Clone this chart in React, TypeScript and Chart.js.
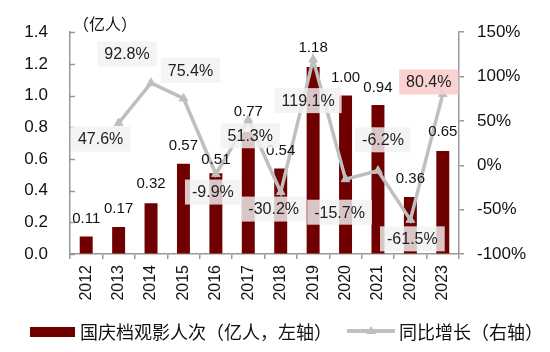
import React, { useEffect, useRef } from 'react';
import { Chart, registerables } from 'chart.js';

Chart.register(...registerables);

// ---------- data ----------
const years = ['2012', '2013', '2014', '2015', '2016', '2017', '2018', '2019', '2020', '2021', '2022', '2023'];
const audience = [0.11, 0.17, 0.32, 0.57, 0.51, 0.77, 0.54, 1.18, 1.0, 0.94, 0.36, 0.65];
const growth: (number | null)[] = [null, 47.6, 92.8, 75.4, -9.9, 51.3, -30.2, 119.1, -15.7, -6.2, -61.5, 80.4];
const leftAxisRange = [0, 1.4, 0.2];
const rightAxisRange = [-100, 150, 50];
const barSeriesName = '国庆档观影人次（亿人，左轴）';
const lineSeriesName = '同比增长（右轴）';
const leftAxisTitle = '（亿人）';
const highlightIndex = 11;

// ---------- label placement (layout only) ----------
const growthLabelOffset: [number, number][] = [
  [0, 0], [-18, 16], [-24, -29], [7, -28], [-3, 18], [2, 16],
  [-7, 17], [-5, 41], [-6, 33], [5, -31], [2, 19], [-14, -12],
];
const audienceLabelLift = [18, 18, 19, 18, 13, 20, 18, 19, 18, 17, 18, 19];

const BAR_COLOR = '#700000';
const LINE_COLOR = '#BFBFBF';
const AXIS_COLOR = '#999999';
const TEXT_COLOR = '#111111';
const FONT = "'Liberation Sans', 'Noto Sans CJK SC', Arial, sans-serif";
const CJK_FONT = "'Noto Sans CJK SC', 'Liberation Sans', sans-serif";

const overlayPlugin = {
  id: 'overlay',
  afterDatasetsDraw(chart: any) {
    const ctx = chart.ctx as CanvasRenderingContext2D;
    const area = chart.chartArea;
    ctx.save();

    // inner ticks for left axis
    const ys = chart.scales.y;
    ctx.strokeStyle = AXIS_COLOR;
    ctx.lineWidth = 1.5;
    ys.ticks.forEach((t: any) => {
      const py = Math.round(ys.getPixelForValue(t.value)) + 0.5;
      ctx.beginPath();
      ctx.moveTo(area.left, py);
      ctx.lineTo(area.left + 5, py);
      ctx.stroke();
    });

    // bar value labels
    const barMeta = chart.getDatasetMeta(0);
    ctx.fillStyle = TEXT_COLOR;
    ctx.font = `15px ${FONT}`;
    ctx.textAlign = 'center';
    ctx.textBaseline = 'middle';
    barMeta.data.forEach((el: any, i: number) => {
      ctx.fillText(audience[i].toFixed(2), el.x, el.y - audienceLabelLift[i]);
    });

    // growth labels with boxes
    const lineMeta = chart.getDatasetMeta(1);
    ctx.font = `16px ${FONT}`;
    lineMeta.data.forEach((pt: any, i: number) => {
      const v = growth[i];
      if (v === null || v === undefined) return;
      const txt = v.toFixed(1) + '%';
      const tw = ctx.measureText(txt).width;
      const w = tw + 14;
      const h = 25;
      const cx = pt.x + growthLabelOffset[i][0];
      const cy = pt.y + growthLabelOffset[i][1];
      ctx.fillStyle = i === highlightIndex ? 'rgba(250,205,205,0.9)' : 'rgba(242,242,242,0.82)';
      ctx.fillRect(cx - w / 2, cy - h / 2, w, h);
      ctx.fillStyle = '#222222';
      ctx.fillText(txt, cx, cy + 1);
    });

    // left axis title
    ctx.font = `16px ${CJK_FONT}`;
    ctx.textAlign = 'left';
    ctx.fillStyle = TEXT_COLOR;
    ctx.fillText(leftAxisTitle, 73, 24);

    // legend
    ctx.fillStyle = BAR_COLOR;
    ctx.fillRect(30, 327, 45, 10);
    ctx.fillStyle = TEXT_COLOR;
    ctx.font = `18px ${CJK_FONT}`;
    ctx.textBaseline = 'middle';
    ctx.fillText(barSeriesName, 80, 332);

    ctx.strokeStyle = LINE_COLOR;
    ctx.lineWidth = 4;
    ctx.beginPath();
    ctx.moveTo(347, 331);
    ctx.lineTo(395, 331);
    ctx.stroke();
    ctx.fillStyle = LINE_COLOR;
    ctx.beginPath();
    ctx.moveTo(371, 326);
    ctx.lineTo(376, 334);
    ctx.lineTo(366, 334);
    ctx.closePath();
    ctx.fill();
    ctx.fillStyle = TEXT_COLOR;
    ctx.fillText(lineSeriesName, 399, 332);

    ctx.restore();
  },
};

export default function App() {
  const ref = useRef<HTMLCanvasElement | null>(null);

  useEffect(() => {
    document.body.style.margin = '0';
    if (!ref.current) return;
    const chart = new Chart(ref.current, {
      type: 'bar',
      data: {
        labels: years,
        datasets: [
          {
            type: 'bar',
            label: barSeriesName,
            data: audience,
            backgroundColor: BAR_COLOR,
            barPercentage: 0.4,
            categoryPercentage: 1.0,
            yAxisID: 'y',
            order: 2,
          },
          {
            type: 'line',
            label: lineSeriesName,
            data: growth,
            borderColor: LINE_COLOR,
            backgroundColor: LINE_COLOR,
            borderWidth: 3.5,
            pointStyle: 'triangle',
            pointRadius: 5,
            pointBorderWidth: 1,
            yAxisID: 'y1',
            order: 1,
            spanGaps: false,
          } as any,
        ],
      },
      options: {
        responsive: false,
        animation: false,
        layout: { padding: { top: 25, bottom: 38, left: 0, right: 0 } },
        plugins: {
          legend: { display: false },
          tooltip: { enabled: false },
          title: { display: false },
        },
        scales: {
          x: {
            offset: true,
            grid: {
              offset: true,
              drawOnChartArea: false,
              drawTicks: true,
              tickLength: 5,
              color: AXIS_COLOR,
              lineWidth: 1.5,
            },
            border: { display: true, color: AXIS_COLOR, width: 1.5 },
            ticks: {
              maxRotation: 90,
              minRotation: 90,
              padding: 6,
              color: TEXT_COLOR,
              font: { family: FONT, size: 16 },
            },
            afterFit(scale: any) {
              scale.height = 60;
            },
          },
          y: {
            position: 'left',
            min: leftAxisRange[0],
            max: leftAxisRange[1],
            grid: { drawOnChartArea: false, drawTicks: false },
            border: { display: true, color: AXIS_COLOR, width: 1.5 },
            ticks: {
              stepSize: leftAxisRange[2],
              padding: 22,
              color: TEXT_COLOR,
              font: { family: FONT, size: 17 },
              callback: (v: any) => Number(v).toFixed(1),
            },
            afterFit(scale: any) {
              scale.width = 70;
            },
          },
          y1: {
            position: 'right',
            min: rightAxisRange[0],
            max: rightAxisRange[1],
            grid: {
              drawOnChartArea: false,
              drawTicks: true,
              tickLength: 5,
              color: AXIS_COLOR,
              lineWidth: 1.5,
            },
            border: { display: true, color: AXIS_COLOR, width: 1.5 },
            ticks: {
              stepSize: rightAxisRange[2],
              padding: 13,
              color: TEXT_COLOR,
              font: { family: FONT, size: 17 },
              callback: (v: any) => `${v}%`,
            },
            afterFit(scale: any) {
              scale.width = 91;
            },
          },
        },
      },
      plugins: [overlayPlugin],
    });
    return () => chart.destroy();
  }, []);

  return <canvas ref={ref} width={550} height={352} style={{ display: 'block' }} />;
}
